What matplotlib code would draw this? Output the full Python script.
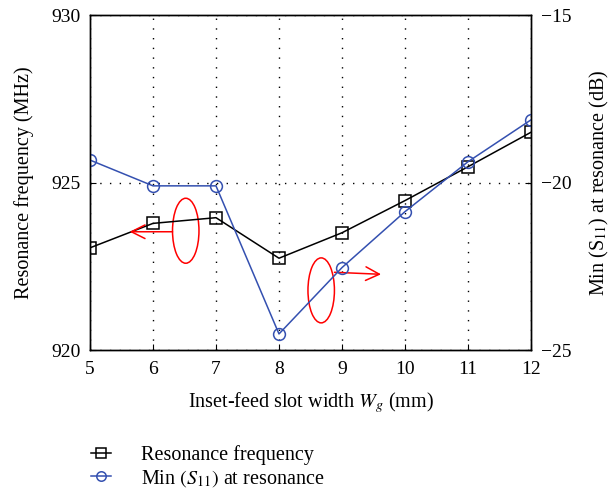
import numpy as np
import matplotlib
matplotlib.use('Agg')
import matplotlib.pyplot as plt
from matplotlib.patches import Ellipse

plt.rcParams['font.family'] = ['Liberation Serif', 'DejaVu Serif']
plt.rcParams['mathtext.fontset'] = 'stix'

# data
width_mm = [5, 6, 7, 8, 9, 10, 11, 12]
freq_mhz = [923.05, 923.78, 923.95, 922.74, 923.5, 924.46, 925.47, 926.5]
s11_db = [-19.33, -20.1, -20.1, -24.52, -22.54, -20.87, -19.38, -18.13]

fig = plt.figure(figsize=(6.13, 4.92), dpi=100)
ax = fig.add_axes([0.1468, 0.2886, 0.7194, 0.6809])
ax2 = ax.twinx()

l1, = ax.plot(width_mm, freq_mhz, color='black', lw=1.1, marker='s', ms=9,
              mfc='none', mec='black', mew=1.1, label='Resonance frequency')
l2, = ax2.plot(width_mm, s11_db, color='#3450b0', lw=1.1, marker='o', ms=8.5,
               mfc='none', mec='#3450b0', mew=1.1,
               label='Min $(S_{11})$ at resonance')

ax.set_xlim(5, 12)
ax.set_ylim(920, 930)
ax2.set_ylim(-25, -15)
ax.set_xticks(width_mm)
ax.set_yticks([920, 925, 930])
ax2.set_yticks([-25, -20, -15])
ax2.set_yticklabels(['\u221225', '\u221220', '\u221215'])

ax.grid(True, color='black', linestyle=(0, (1, 6)), linewidth=1.0)
for a in (ax, ax2):
    a.tick_params(direction='in', labelsize=14, length=4, pad=7)
    for s in a.spines.values():
        s.set_linewidth(1.0)
ax.tick_params(axis='x', pad=8)

ax.set_xlabel('Inset-feed slot width $W_g$ (mm)', fontsize=14.5)
ax.set_ylabel('Resonance frequency (MHz)', fontsize=14.5)
ax2.set_ylabel('Min (S$_{11}$) at resonance (dB)', fontsize=14.5)
ax.xaxis.set_label_coords(0.5, -0.12)
ax.yaxis.set_label_coords(-0.127, 0.5)
ax2.yaxis.set_label_coords(1.129, 0.5)

# red annotations
arrow = dict(arrowstyle='->,head_length=0.7,head_width=0.35', color='red',
             lw=1.1, mutation_scale=14, shrinkA=0, shrinkB=0)
ax.add_patch(Ellipse((6.52, 923.56), 0.42, 1.94, fill=False, ec='red', lw=1.1))
ax.annotate('', xy=(5.63, 923.53), xytext=(6.31, 923.53), arrowprops=arrow)
ax.add_patch(Ellipse((8.67, 921.78), 0.42, 1.94, fill=False, ec='red', lw=1.1))
ax.annotate('', xy=(9.62, 922.26), xytext=(8.88, 922.32), arrowprops=arrow)

fig.legend(handles=[l1, l2], loc='upper left', bbox_to_anchor=(0.132, 0.116),
           frameon=False, fontsize=14.5, handlelength=1.0, borderpad=0,
           labelspacing=0.15, handletextpad=1.5, markerscale=0.8)

fig.savefig('out.png', dpi=100)
